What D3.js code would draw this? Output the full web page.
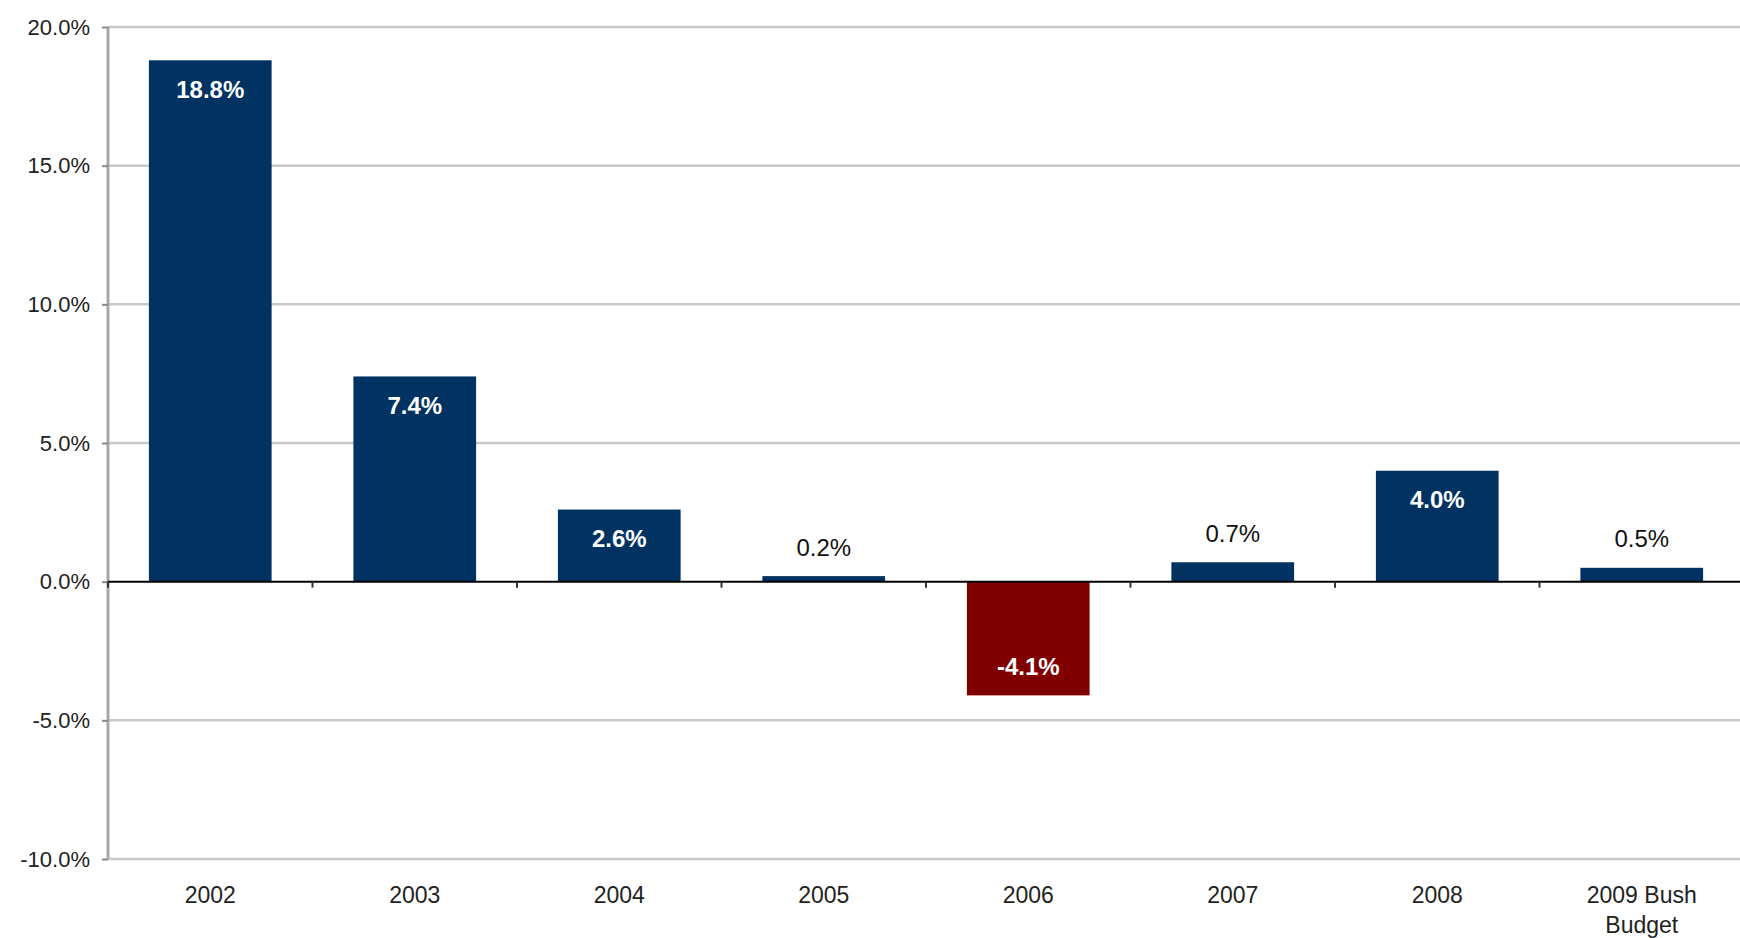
<!DOCTYPE html>
<html>
<head>
<meta charset="utf-8">
<script src="https://cdn.jsdelivr.net/npm/d3@7"></script>
<style>
  body { margin: 0; background: #fff; }
  text { font-family: "Liberation Sans", Arial, sans-serif; }
</style>
</head>
<body>
<div class="chart"></div>
<script>
let years = ['2002', '2003', '2004', '2005', '2006', '2007', '2008', '2009 Bush Budget'];
let growth = [18.8, 7.4, 2.6, 0.2, -4.1, 0.7, 4.0, 0.5];
let yTicks = [20, 15, 10, 5, 0, -5, -10];

let width = 1740, height = 938;
let plotLeft = 108, plotRight = 1744, plotTop = 27, plotBottom = 859;

let svg = d3
  .select('.chart')
  .append('svg')
  .attr('width', width)
  .attr('height', height);

let x = d3.scaleBand().domain(years).range([plotLeft, plotRight]).paddingInner(0.4).paddingOuter(0.2);
let y = d3.scaleLinear().domain([-10, 20]).range([plotBottom, plotTop]);

// gridlines
svg
  .append('g')
  .selectAll('line')
  .data(yTicks.filter(d => d !== 0))
  .enter()
  .append('line')
  .attr('x1', plotLeft)
  .attr('x2', width)
  .attr('y1', d => y(d))
  .attr('y2', d => y(d))
  .attr('stroke', '#c8c8c8')
  .attr('stroke-width', 2.5);

// y axis
let yAxis = svg
  .append('g')
  .attr('transform', `translate(${plotLeft},0)`)
  .call(d3.axisLeft(y).tickValues(yTicks).tickSize(6).tickPadding(12).tickFormat(d => d.toFixed(1) + '%'));
yAxis.select('.domain').attr('stroke', '#a8a8a8').attr('stroke-width', 3).attr('d', `M0,${plotTop}V${plotBottom}`);
yAxis.selectAll('.tick line').attr('stroke', '#888').attr('stroke-width', 2);
yAxis
  .selectAll('.tick text')
  .attr('font-size', 22)
  .attr('fill', '#222')
  .style('font-family', '"Liberation Sans", Arial, sans-serif');

// bars
let bar = svg
  .append('g')
  .selectAll('g')
  .data(years.map((d, i) => ({ year: d, value: growth[i] })))
  .enter()
  .append('g');

bar
  .append('rect')
  .attr('x', d => x(d.year))
  .attr('width', x.bandwidth())
  .attr('y', d => y(Math.max(0, d.value)))
  .attr('height', d => Math.abs(y(d.value) - y(0)))
  .attr('fill', d => (d.value < 0 ? '#800000' : '#003262'));

bar
  .append('text')
  .text(d => d.value.toFixed(1) + '%')
  .attr('x', d => x(d.year) + x.bandwidth() / 2)
  .attr('y', d => {
    if (d.value < 0) return y(d.value) - 29;
    if (d.value > 2) return y(d.value) + 29;
    return y(d.value) - 29;
  })
  .attr('dy', '0.35em')
  .attr('text-anchor', 'middle')
  .attr('font-size', 24)
  .attr('font-weight', d => (Math.abs(d.value) > 2 ? 'bold' : 'normal'))
  .attr('fill', d => (Math.abs(d.value) > 2 ? '#fff' : '#111'));

// zero line with category ticks
svg
  .append('line')
  .attr('x1', plotLeft)
  .attr('x2', width)
  .attr('y1', y(0))
  .attr('y2', y(0))
  .attr('stroke', '#000')
  .attr('stroke-width', 2);

let step = x.step();
svg
  .append('g')
  .selectAll('line')
  .data(years)
  .enter()
  .append('line')
  .attr('x1', d => x(d) - x.paddingInner() * step / 2)
  .attr('x2', d => x(d) - x.paddingInner() * step / 2)
  .attr('y1', y(0))
  .attr('y2', y(0) + 6)
  .attr('stroke', '#333')
  .attr('stroke-width', 2);

// category labels
svg
  .append('g')
  .selectAll('text')
  .data(years)
  .enter()
  .append('text')
  .attr('x', d => x(d) + x.bandwidth() / 2)
  .attr('y', 903)
  .attr('text-anchor', 'middle')
  .attr('font-size', 23)
  .attr('fill', '#222')
  .each(function(d) {
    let parts = d === '2009 Bush Budget' ? ['2009 Bush', 'Budget'] : [d];
    d3.select(this)
      .selectAll('tspan')
      .data(parts)
      .enter()
      .append('tspan')
      .attr('x', x(d) + x.bandwidth() / 2)
      .attr('dy', (p, i) => (i === 0 ? 0 : 30))
      .text(p => p);
  });
</script>
</body>
</html>
